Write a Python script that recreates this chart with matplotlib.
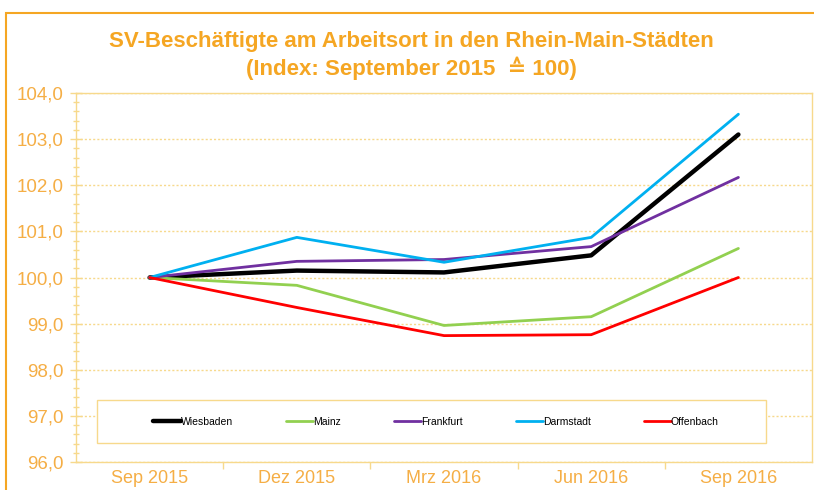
import matplotlib.pyplot as plt
from matplotlib.patches import Rectangle
from matplotlib.ticker import FuncFormatter, MultipleLocator, FixedLocator

# Daten (Index: September 2015 = 100)
quartale = ['Sep 2015', 'Dez 2015', 'Mrz 2016', 'Jun 2016', 'Sep 2016']
wiesbaden = [100.0, 100.15, 100.11, 100.48, 103.10]
mainz = [100.0, 99.83, 98.96, 99.15, 100.63]
frankfurt = [100.0, 100.35, 100.39, 100.67, 102.17]
darmstadt = [100.0, 100.87, 100.33, 100.87, 103.54]
offenbach = [100.0, 99.35, 98.74, 98.76, 100.0]

staedte = ['Wiesbaden', 'Mainz', 'Frankfurt', 'Darmstadt', 'Offenbach']
reihen = [wiesbaden, mainz, frankfurt, darmstadt, offenbach]
farben = ['#000000', '#92D050', '#7030A0', '#00B0F0', '#FF0000']
breiten = [3.2, 2.0, 2.0, 2.0, 2.0]

orange = '#F5A623'
label_orange = '#F5AE45'
achse = '#F7D98C'

plt.rcParams['font.family'] = ['Liberation Sans', 'DejaVu Sans']

fig = plt.figure(figsize=(8.14, 4.9), dpi=100)
# orangener Rahmen um die Grafik
fig.patches.append(Rectangle((6 / 814, -0.05), 1.0, 1 - 13 / 490 + 0.05, transform=fig.transFigure,
                             fill=False, edgecolor=orange, linewidth=1.5))

ax = fig.add_axes([76 / 814, 28 / 490, 736 / 814, 369 / 490])
x = list(range(len(quartale)))
for name, werte, f, lw in zip(staedte, reihen, farben, breiten):
    ax.plot(x, werte, color=f, linewidth=lw, label=name, solid_capstyle='round')

ax.set_xlim(-0.5, 4.5)
ax.set_ylim(96, 104)
ax.yaxis.set_major_locator(MultipleLocator(1))
ax.yaxis.set_minor_locator(MultipleLocator(0.2))
ax.yaxis.set_major_formatter(FuncFormatter(lambda v, p: f'{v:.1f}'.replace('.', ',')))
ax.set_xticks(x)
ax.set_xticklabels(quartale)
ax.xaxis.set_minor_locator(FixedLocator([0.5, 1.5, 2.5, 3.5]))

ax.grid(axis='y', which='major', color=achse, linestyle=(0, (1.5, 1.5)), linewidth=1)
for s in ax.spines.values():
    s.set_color(achse)
    s.set_linewidth(1)

ax.tick_params(axis='y', which='major', colors=achse, labelcolor=label_orange, labelsize=13.5,
               direction='inout', length=8, width=1, pad=5)
ax.tick_params(axis='y', which='minor', colors=achse, direction='inout', length=5, width=1)
ax.tick_params(axis='x', which='major', length=0, labelcolor=label_orange, labelsize=13, pad=6)
ax.tick_params(axis='x', which='minor', colors=achse, direction='out', length=5, width=1)

# Legende mit eigenem Rahmen
ax.add_patch(Rectangle((21 / 736, 19 / 369), 669 / 736, 43 / 369, transform=ax.transAxes,
                       fill=True, facecolor='white', edgecolor=achse, linewidth=1, zorder=3))
leg = ax.legend(loc='center', bbox_to_anchor=(360 / 736, 40 / 369), ncol=5, frameon=False,
                fontsize=7.5, handlelength=2.6, handletextpad=0.0, columnspacing=5.1)
leg.set_zorder(4)

fig.text(0.505, 1 - 42 / 490, 'SV-Beschäftigte am Arbeitsort in den Rhein-Main-Städten',
         ha='center', va='center', color=orange, fontsize=16, fontweight='bold')
fig.text(0.505, 1 - 68 / 490, '(Index: September 2015  \u2259 100)',
         ha='center', va='center', color=orange, fontsize=16, fontweight='bold')

fig.savefig('out.png', dpi=100)
